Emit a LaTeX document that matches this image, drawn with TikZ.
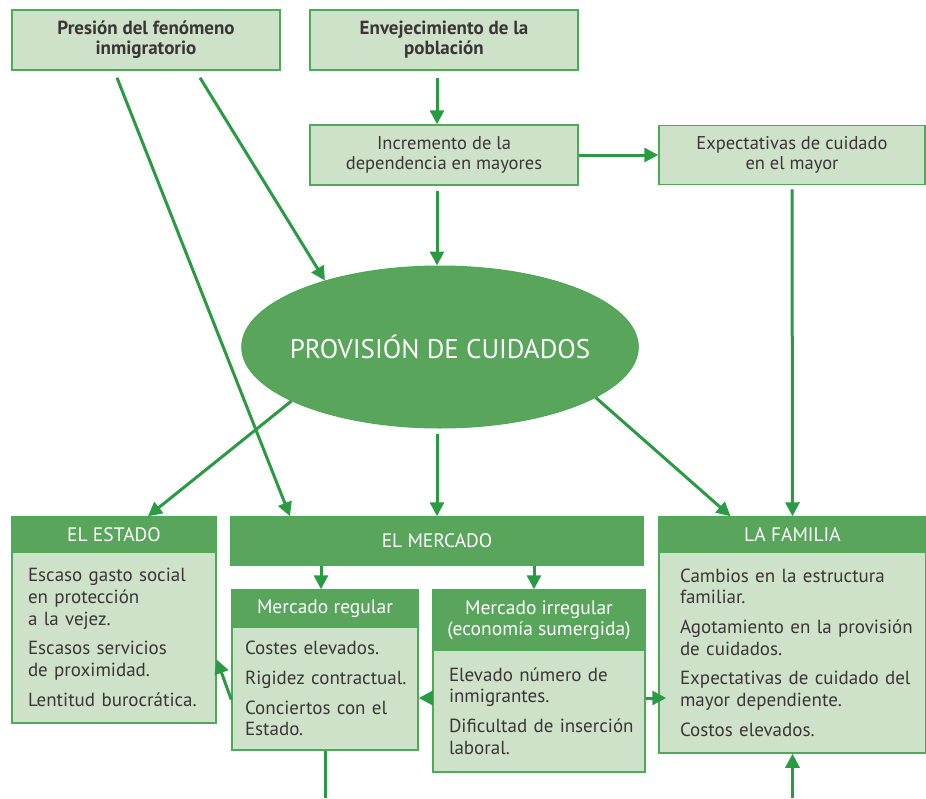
\documentclass[tikz,border=0pt]{standalone}
\usepackage{fontspec}
\setmainfont{PT Sans}
\usepackage{tikz}
\usetikzlibrary{arrows.meta}
\usetikzlibrary{shapes.geometric}

\definecolor{hdgreen}{HTML}{58A55B}
\definecolor{bdgreen}{HTML}{4CAB57}
\definecolor{lightgr}{HTML}{CEE2CA}
\definecolor{argreen}{HTML}{2A9A43}
\definecolor{txtgray}{HTML}{3B3535}

\begin{document}
\begin{tikzpicture}
[x=1pt,y=-1pt
,box/.style={rectangle,draw=bdgreen,line width=1.5pt,fill=lightgr,text=txtgray,inner sep=0pt,align=center,font=\fontsize{18.5}{20}\selectfont}
,topbox/.style={box,font=\bfseries\fontsize{19}{20}\selectfont}
,head/.style={rectangle,draw=bdgreen,line width=1.5pt,fill=hdgreen,text=white,inner sep=0pt,align=center,font=\fontsize{19.5}{21}\selectfont}
,body/.style={box,inner sep=0pt,align=left,font=\fontsize{19}{21.7}\selectfont}
,prov/.style={ellipse,draw=bdgreen,line width=1pt,fill=hdgreen,text=white,inner xsep=-10pt,inner ysep=0pt,font=\fontsize{27}{30}\selectfont}
,ar/.style={draw=argreen,line width=3pt,arrows={-Triangle[width=14pt,length=14pt]}}
,ln/.style={draw=argreen,line width=3pt}
]
\useasboundingbox (0,0) rectangle (926,798);

% causas
\node[topbox,minimum width=268pt,minimum height=60pt] (pres) at (146,40) {Presión del fenómeno\\inmigratorio};
\node[topbox,minimum width=268pt,minimum height=60pt] (envej) at (444,40) {Envejecimiento de la\\población};
\node[box,minimum width=268pt,minimum height=60pt] (incr) at (444,155) {Incremento de la\\dependencia en mayores};
\node[box,minimum width=266pt,minimum height=59pt] (expec) at (792,155) {Expectativas de cuidado\\en el mayor};

\node[prov,minimum height=162pt] (prov) at (440,347) {PROVISIÓN DE CUIDADOS};

% proveedores
\node[head,minimum width=204pt,minimum height=35pt] (estado) at (114,534.5) {EL ESTADO};
\node[body,minimum width=204pt,minimum height=171pt,text width=192pt] (estadoB) at (114,637.5)
  {\leftskip=10pt Escaso gasto social\\en protección\\a la vejez.\\[8pt]Escasos servicios\\de proximidad.\\[8pt]Lentitud burocrática.\par};

\node[head,minimum width=412pt,minimum height=48pt] (merc) at (437,541) {EL MERCADO};

\node[head,minimum width=186pt,minimum height=37pt] (reg) at (325,608.5) {Mercado regular};
\node[body,minimum width=186pt,minimum height=123pt,text width=174pt] (regB) at (325,688.5)
  {\leftskip=7pt Costes elevados.\\[8pt]Rigidez contractual.\\[8pt]Conciertos con el\\Estado.\par};

\node[head,minimum width=212pt,minimum height=60pt] (irr) at (539,620) {Mercado irregular\\(economía sumergida)};
\node[body,minimum width=212pt,minimum height=122pt,text width=200pt] (irrB) at (539,711)
  {\leftskip=10pt Elevado número de\\inmigrantes.\\[8pt]Dificultad de inserción\\laboral.\par};

\node[head,minimum width=267pt,minimum height=35pt] (fam) at (792.5,534.5) {LA FAMILIA};
\node[body,minimum width=267pt,minimum height=201pt,text width=255pt] (famB) at (792.5,652.5)
  {\leftskip=15pt Cambios en la estructura\\familiar.\\[8pt]Agotamiento en la provisión\\de cuidados.\\[8pt]Expectativas de cuidado del\\mayor dependiente.\\[8pt]Costos elevados.\par};

\coordinate (regout) at (325,798);
\coordinate (famin) at (792.5,798);

\draw[ar,shorten <=7pt] ([xshift=-7pt]envej.south) -- ([xshift=-7pt]incr.north);
\draw[ar] (incr) -- (expec);
\draw[ar,shorten <=5pt] ([xshift=-7pt]incr.south) -- ([xshift=-3pt]prov.north);
\draw[ar] ([xshift=-29pt,yshift=-7pt]pres.south) -- ([xshift=-147pt]merc.north);
\draw[ar] ([xshift=54pt,yshift=-7pt]pres.south) -- (prov.150);
\draw[ar,shorten <=4pt] (expec) -- (fam);

\draw[ar] (prov.200) -- ([xshift=34pt]estado.north);
\draw[ar,shorten <=5pt] ([xshift=-3pt]prov.south) -- (merc);
\draw[ar] (prov.342) -- ([xshift=-62pt]fam.north);

\draw[ar] ([xshift=-4pt]reg.north |- merc.south) -- ([xshift=-4pt]reg.north);
\draw[ar] ([xshift=-5pt]irr.north |- merc.south) -- ([xshift=-5pt]irr.north);

\draw[ar] ([yshift=-11pt]regB.west) -- ([yshift=-22pt]estadoB.east);
\draw[ar] ([yshift=13pt]irrB.west) -- ([yshift=13pt]irrB.west -| regB.east);
\draw[ar] ([yshift=13pt]irrB.east) -- ([yshift=13pt,xshift=8pt]irrB.east -| famB.west);

\draw[ln] (regB) -- (regout);
\draw[ar] (famin) -- (famB);
\end{tikzpicture}
\end{document}
